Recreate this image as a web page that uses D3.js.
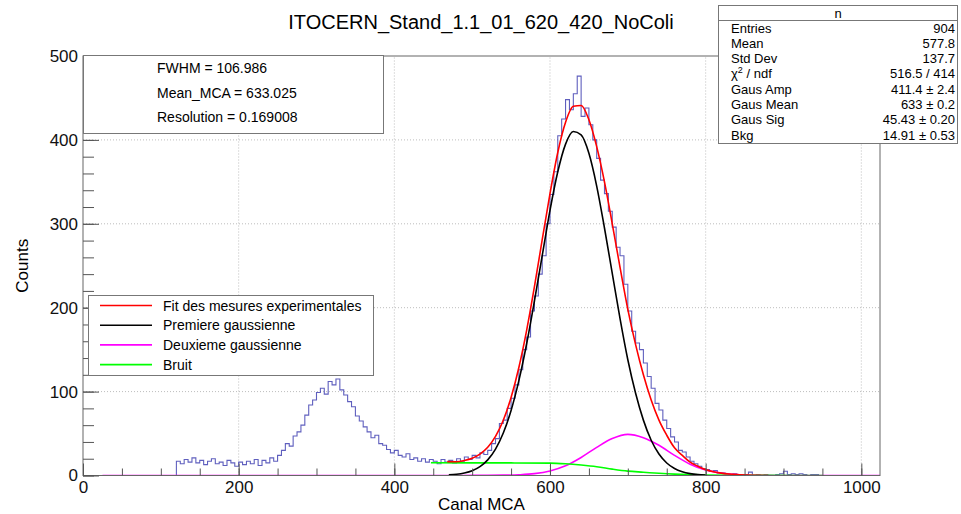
<!DOCTYPE html>
<html>
<head>
<meta charset="utf-8">
<script src="https://cdn.jsdelivr.net/npm/d3@7"></script>
<style>
  body { margin: 0; background: #fff; }
  svg { display: block; font-family: "Liberation Sans", Arial, sans-serif; }
</style>
</head>
<body>
<div id="chart"></div>
<script>
// histogram: bin low edges every 5 channels from 120
const binLow = d3.range(120, 1025, 5);
const counts = [
  17,14,19,16,21,15,18,13,17,20,14,16,12,18,15,11,16,13,17,14,19,12,18,15,21,17,
  24,30,38,35,47,52,60,72,84,90,99,104,97,112,108,115,102,96,88,82,71,65,58,52,45,48,38,36,31,27,30,24,22,26,19,21,17,20,16,19,
  17,14,19,16,18,15,20,17,22,19,24,21,27,25,30,38,44,62,66,80,92,108,126,150,165,196,214,240,262,300,
  335,362,405,425,448,436,455,476,428,438,418,400,378,352,336,315,296,272,262,228,
  196,172,158,150,134,118,104,86,78,66,56,46,40,30,28,22,17,14,11,8,
  7,5,6,3,3,2,1,2,1,0,1,4,0,1,0,1,0,0,1,2,
  5,1,2,1,2,1,0,1,1,0,0,0,0,0,0,0,0,0,0,0,0,0,0,0,0
];

// fit curves
const fitX = [468,480,490,500,510,520,530,540,550,560,570,580,590,600,610,620,630,640,650,660,670,680,690,700,710,720,730,740,750,760,770,780,790,800,810,820,830,840,860,880];
const fitY = [16.5,16.4,17.9,20.6,25.5,33.6,46.6,65.8,93,128.7,173,225,281,336,385,421,440,441,424,392,350,300,248,198,156,120,90,66,48,33,24,16,11,7,4.5,2.8,1.7,1,0.3,0];

const gaus1X = [470,480,490,500,510,520,530,540,550,560,570,580,590,600,610,620,630,640,650,660,670,680,690,700,710,720,730,740,750,760,770,780,790,800];
const gaus1Y = [0.7,1.4,2.9,5.6,10.5,18.6,31.5,50.6,77.5,113,157,208,262,316,362,395,410,406,384,345,295,241,187,138,98,66,42,25.6,14.9,8.3,4.4,2.2,1,0.5];

const gaus2X = [25,440,480,500,520,540,560,580,600,620,640,660,680,700,720,740,760,780,800,820,840,860,880,900,1024];
const gaus2Y = [0,0,0,0.1,0.2,0.4,0.9,2.2,5.4,11.5,21.5,33.5,44,49,45,36,24,13.5,6.5,2.8,1,0.3,0.1,0,0];

const bruitX = [447,500,550,600,620,640,660,680,700,720,740,760,780,800,840,880,950];
const bruitY = [15.2,15.1,15,14.8,14,12.5,10.5,7.6,5.2,3.9,2.6,1.6,1,0.6,0.2,0.1,0];

const xMajor = [0,200,400,600,800,1000];
const xMinor = d3.range(0, 1025, 50);
const yMajor = [0,100,200,300,400,500];
const yMinor = d3.range(0, 501, 20);

const paveLines = ["FWHM = 106.986", "Mean_MCA = 633.025", "Resolution = 0.169008"];
const legendLabels = ["Fit des mesures experimentales", "Premiere gaussienne", "Deuxieme gaussienne", "Bruit"];
const legendColors = ["#ff0000", "#000000", "#ff00ff", "#00ff00"];
const statNames = ["Entries", "Mean", "Std Dev", "CHI", "Gaus Amp", "Gaus Mean", "Gaus Sig", "Bkg"];
const statValues = ["904", "577.8", "137.7", "516.5 / 414", "411.4 \u00b1 2.4", "633 \u00b1 0.2", "45.43 \u00b1 0.20", "14.91 \u00b1 0.53"];

const width = 961, height = 514,
    margin = ({ top: 56, right: 81, bottom: 38.5, left: 83 });

const svg = d3.select("#chart")
    .append("svg")
    .attr("width", width)
    .attr("height", height)
    .attr("viewBox", [0, 0, width, height]);

const x = d3.scaleLinear().domain([0, 1024]).range([margin.left, width - margin.right]);
const y = d3.scaleLinear().domain([0, 500]).range([height - margin.bottom, margin.top]);

svg.append("clipPath").attr("id", "frame")
  .append("rect")
  .attr("x", x(0)).attr("y", y(500))
  .attr("width", x(1024) - x(0)).attr("height", y(0) - y(500));

// grid
const grid = svg.append("g").attr("stroke", "#bdbdbd").attr("stroke-dasharray", "1,2");
grid.selectAll(".gx").data(xMajor.slice(1)).join("line")
  .attr("x1", d => x(d)).attr("x2", d => x(d))
  .attr("y1", y(0)).attr("y2", y(500));
grid.selectAll(".gy").data(yMajor.slice(1, -1)).join("line")
  .attr("x1", x(0)).attr("x2", x(1024))
  .attr("y1", d => y(d)).attr("y2", d => y(d));

const plot = svg.append("g").attr("clip-path", "url(#frame)");

// histogram step line
let pts = [[0, 0], [binLow[0], 0]];
binLow.forEach((b, i) => {
  pts.push([b, counts[i]]);
  pts.push([b + 5, counts[i]]);
});
pts.push([binLow[binLow.length - 1] + 5, 0], [1024, 0]);

plot.append("path")
  .attr("d", d3.line().x(d => x(d[0])).y(d => y(d[1]))(pts))
  .attr("fill", "none")
  .attr("stroke", "#2a2aa8")
  .attr("stroke-opacity", 0.75)
  .attr("stroke-width", 1.1);

const curve = d3.line().x(d => x(d[0])).y(d => y(d[1])).curve(d3.curveMonotoneX);
const curves = [
  [gaus2X, gaus2Y, "#ff00ff"],
  [bruitX, bruitY, "#00ff00"],
  [gaus1X, gaus1Y, "#000000"],
  [fitX, fitY, "#ff0000"]
];
curves.forEach(c => {
  plot.append("path")
    .attr("d", curve(c[0].map((v, i) => [v, c[1][i]])))
    .attr("fill", "none")
    .attr("stroke", c[2])
    .attr("stroke-width", 1.6);
});

// frame
svg.append("rect")
  .attr("x", x(0)).attr("y", y(500))
  .attr("width", x(1024) - x(0)).attr("height", y(0) - y(500))
  .attr("fill", "none").attr("stroke", "#666");

// axes, ticks inside the frame
const xAxis = svg.append("g").attr("transform", "translate(0," + y(0) + ")");
xAxis.call(d3.axisBottom(x).tickValues(xMinor).tickSize(-7).tickFormat(""));
xAxis.append("g").call(d3.axisBottom(x).tickValues(xMajor).tickSize(-12).tickPadding(5).tickFormat(d3.format("d")));
xAxis.selectAll(".domain").remove();

const yAxis = svg.append("g").attr("transform", "translate(" + x(0) + ",0)");
yAxis.call(d3.axisLeft(y).tickValues(yMinor).tickSize(-11).tickFormat(""));
yAxis.append("g").call(d3.axisLeft(y).tickValues(yMajor).tickSize(-16).tickPadding(5).tickFormat(d3.format("d")));
yAxis.selectAll(".domain").remove();

svg.selectAll(".tick line").attr("stroke", "#555");
svg.selectAll(".tick text").attr("font-size", 17).attr("fill", "#111")
  .attr("font-family", "Liberation Sans, Arial, sans-serif");

svg.append("text")
  .attr("x", (x(0) + x(1024)) / 2).attr("y", 510)
  .attr("text-anchor", "middle").attr("font-size", 17)
  .text("Canal MCA");

svg.append("text")
  .attr("transform", "translate(28," + (y(0) + y(500)) / 2 + ") rotate(-90)")
  .attr("text-anchor", "middle").attr("font-size", 17)
  .text("Counts");

svg.append("text")
  .attr("x", 481).attr("y", 29)
  .attr("text-anchor", "middle").attr("font-size", 20)
  .text("ITOCERN_Stand_1.1_01_620_420_NoColi");

// fit results pave
svg.append("rect")
  .attr("x", 83.5).attr("y", 55.5).attr("width", 300).attr("height", 78)
  .attr("fill", "#fff").attr("stroke", "#777");
svg.selectAll(".pave").data(paveLines).join("text")
  .attr("x", 157).attr("y", (d, i) => 73 + i * 24.5)
  .attr("font-size", 14).text(d => d);

// legend
svg.append("rect")
  .attr("x", 88.5).attr("y", 295.5).attr("width", 285).attr("height", 80)
  .attr("fill", "#fff").attr("stroke", "#777");
const leg = svg.selectAll(".leg").data(legendLabels).join("g")
  .attr("transform", (d, i) => "translate(0," + (305.5 + i * 19.7) + ")");
leg.append("line")
  .attr("x1", 100).attr("x2", 152)
  .attr("stroke", (d, i) => legendColors[i]).attr("stroke-width", 1.6);
leg.append("text")
  .attr("x", 163).attr("y", 5)
  .attr("font-size", 14).text(d => d);

// stats box
svg.append("rect")
  .attr("x", 718.5).attr("y", 5.5).attr("width", 239).attr("height", 138)
  .attr("fill", "#fff").attr("stroke", "#777");
svg.append("line")
  .attr("x1", 718.5).attr("x2", 957.5).attr("y1", 20.5).attr("y2", 20.5)
  .attr("stroke", "#777");
svg.append("text")
  .attr("x", 838).attr("y", 17.5)
  .attr("text-anchor", "middle").attr("font-size", 13).text("n");

const rows = svg.selectAll(".stat").data(statNames).join("g")
  .attr("transform", (d, i) => "translate(0," + (32.5 + i * 15.3) + ")");
rows.append("text")
  .attr("x", 731).attr("font-size", 13)
  .each(function (d) {
    const t = d3.select(this);
    if (d === "CHI") {
      t.append("tspan").text("\u03c7");
      t.append("tspan").attr("font-size", 9).attr("dy", -5).text("2");
      t.append("tspan").attr("dy", 5).text(" / ndf");
    } else {
      t.text(d);
    }
  });
rows.append("text")
  .attr("x", 955).attr("text-anchor", "end").attr("font-size", 13)
  .text((d, i) => statValues[i]);
</script>
</body>
</html>
